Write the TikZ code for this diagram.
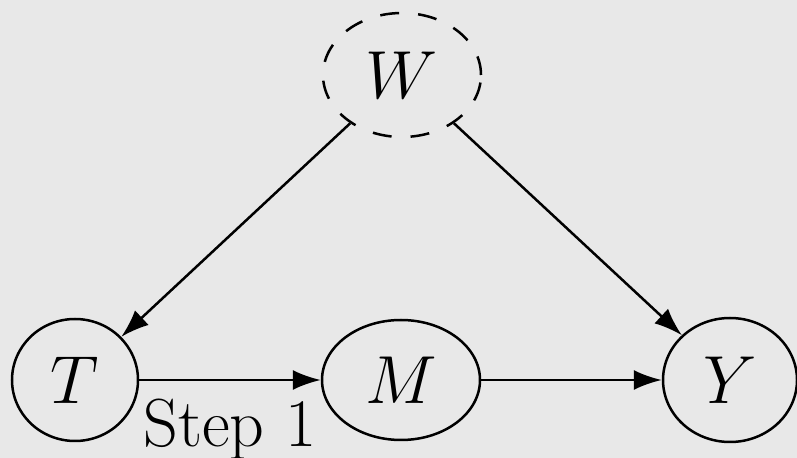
\RequirePackage{fix-cm}
\documentclass[tikz,border=0pt]{standalone}
\usetikzlibrary{shapes.geometric,arrows.meta}
\definecolor{bgc}{RGB}{232,232,232}
\begin{document}
\begin{tikzpicture}[x=0.5pt,y=-0.5pt,
  var/.style={ellipse,draw,line width=1.25pt,inner sep=0pt,font=\fontsize{34}{40}\selectfont},
  arr/.style={-{Latex[length=14pt,width=10pt]},line width=1.25pt}]
\fill[bgc] (0,0) rectangle (797,458);
\useasboundingbox (0,0) rectangle (797,458);
\node[var,dash pattern=on 9.5pt off 9.5pt,minimum width=79pt,minimum height=62pt] (W) at (402,75) {$W$};
\node[var,minimum width=63pt,minimum height=61pt] (T) at (75,380) {$T$};
\node[var,minimum width=79pt,minimum height=60pt] (M) at (401,380) {$M$};
\node[var,minimum width=67pt,minimum height=62pt] (Y) at (730,380) {$Y$};
\draw[arr] (W) -- (T);
\draw[arr] (W) -- (Y);
\draw[arr] (T) -- (M);
\draw[arr] (M) -- (Y);
\node[anchor=base,inner sep=0pt,font=\fontsize{34}{40}\selectfont] (s1) at (230,447) {Step 1};
\end{tikzpicture}
\end{document}
